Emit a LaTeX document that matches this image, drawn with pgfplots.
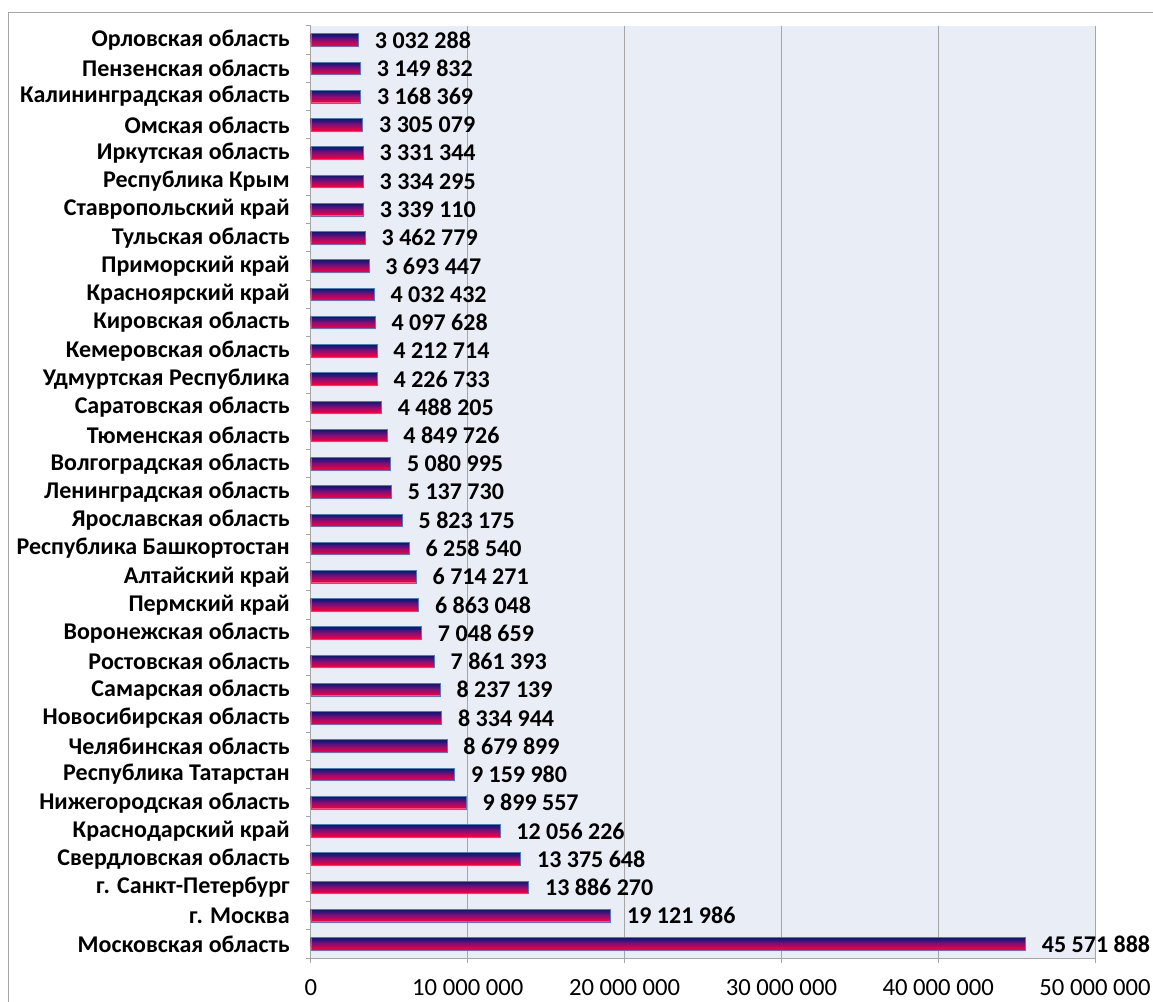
\documentclass[border=0pt]{standalone}
\usepackage{fontspec}
\setmainfont{Carlito}
\usepackage{pgfplots}
\usepackage{pgfplotstable}
\pgfplotsset{compat=1.18}

\definecolor{plotbg}{HTML}{E9EDF6}
\definecolor{gridgray}{HTML}{A6A6A6}
\definecolor{barline}{HTML}{4A7EBB}
\definecolor{bartop}{HTML}{14147A}
\definecolor{barmid}{HTML}{8A0C72}
\definecolor{barbot}{HTML}{F2003E}
% bands of the vertical gradient, 1 = top, 9 = bottom
\colorlet{sl1}{bartop}
\colorlet{sl2}{barmid!25!bartop}
\colorlet{sl3}{barmid!50!bartop}
\colorlet{sl4}{barmid!75!bartop}
\colorlet{sl5}{barmid}
\colorlet{sl6}{barbot!25!barmid}
\colorlet{sl7}{barbot!50!barmid}
\colorlet{sl8}{barbot!75!barmid}
\colorlet{sl9}{barbot}

% regions, bottom to top
\pgfplotstableread[col sep=comma]{
y,x,label,name
0,45571888,45~571~888,Московская область
1,19121986,19~121~986,г. Москва
2,13886270,13~886~270,г. Санкт-Петербург
3,13375648,13~375~648,Свердловская область
4,12056226,12~056~226,Краснодарский край
5,9899557,9~899~557,Нижегородская область
6,9159980,9~159~980,Республика Татарстан
7,8679899,8~679~899,Челябинская область
8,8334944,8~334~944,Новосибирская область
9,8237139,8~237~139,Самарская область
10,7861393,7~861~393,Ростовская область
11,7048659,7~048~659,Воронежская область
12,6863048,6~863~048,Пермский край
13,6714271,6~714~271,Алтайский край
14,6258540,6~258~540,Республика Башкортостан
15,5823175,5~823~175,Ярославская область
16,5137730,5~137~730,Ленинградская область
17,5080995,5~080~995,Волгоградская область
18,4849726,4~849~726,Тюменская область
19,4488205,4~488~205,Саратовская область
20,4226733,4~226~733,Удмуртская Республика
21,4212714,4~212~714,Кемеровская область
22,4097628,4~097~628,Кировская область
23,4032432,4~032~432,Красноярский край
24,3693447,3~693~447,Приморский край
25,3462779,3~462~779,Тульская область
26,3339110,3~339~110,Ставропольский край
27,3334295,3~334~295,Республика Крым
28,3331344,3~331~344,Иркутская область
29,3305079,3~305~079,Омская область
30,3168369,3~168~369,Калининградская область
31,3149832,3~149~832,Пензенская область
32,3032288,3~032~288,Орловская область
}\regions

\begin{document}
\begin{tikzpicture}
\useasboundingbox (-233.25pt,-32.25pt) rectangle (631.5pt,718.5pt);
% chart frame
\draw[gridgray, line width=0.75pt] (-226.5pt,-60pt) -- (-226.5pt,708.75pt) -- (660pt,708.75pt);
\begin{axis}[
  at={(0,0)}, anchor=south west,
  scale only axis,
  width=588pt, height=699pt,
  xbar, bar width=9pt,
  xmin=0, xmax=50000000,
  ymin=-0.5, ymax=32.5,
  axis background/.style={fill=plotbg},
  axis x line*=bottom, axis y line*=left,
  axis line style={draw=gridgray, line width=0.75pt},
  xmajorgrids, grid style={draw=gridgray, line width=0.75pt},
  xtick={0,10000000,20000000,30000000,40000000,50000000},
  xticklabels={0,10~000~000,20~000~000,30~000~000,40~000~000,50~000~000},
  scaled x ticks=false,
  ytick=data,
  yticklabels from table={\regions}{name},
  minor ytick={-0.5,0.5,...,32.5},
  tick align=outside,
  major tick length=3.75pt, minor tick length=3.75pt,
  major y tick style={draw=none},
  tick style={draw=gridgray, line width=0.75pt},
  xticklabel style={font=\fontsize{18.5}{20}\selectfont, inner sep=0pt, yshift=-12pt},
  yticklabel style={font=\fontsize{18}{20}\selectfont\bfseries, inner sep=0pt, xshift=-12pt},
  clip=false,
]
% gradient: top-aligned bars of falling height, red first, navy last
\pgfplotsinvokeforeach{9,8,...,1}{
  \addplot[xbar, bar width=#1pt, bar shift={4.5pt-0.5*#1pt}, fill=sl#1, draw=none]
    table[x=x, y=y] {\regions};
}
% bar outline and value labels
\addplot[xbar, bar width=9.5pt, bar shift=0pt, draw=barline, line width=0.6pt, fill=none,
  point meta=explicit symbolic, nodes near coords,
  every node near coord/.append style={font=\fontsize{18}{20}\selectfont\bfseries, inner sep=0pt, anchor=west, xshift=12pt}]
  table[x=x, y=y, meta=label] {\regions};
\end{axis}
\end{tikzpicture}
\end{document}
